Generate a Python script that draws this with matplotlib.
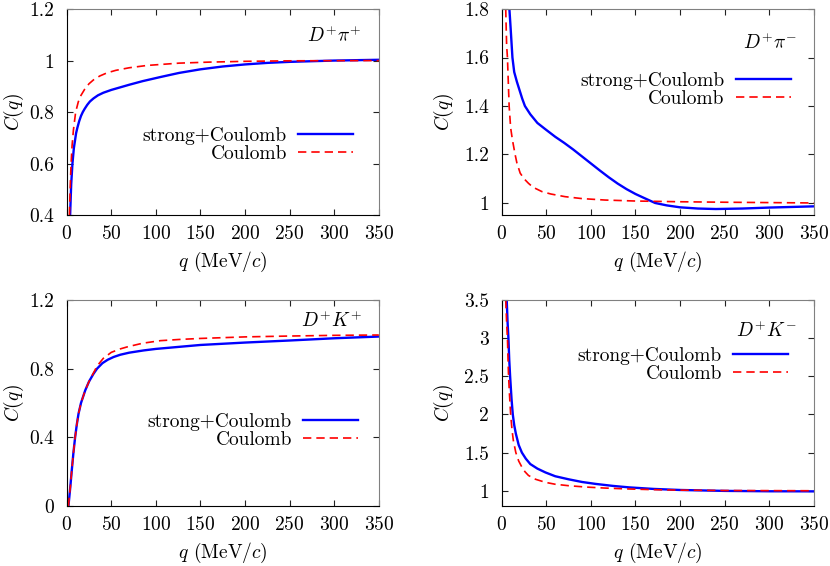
import matplotlib
matplotlib.use("Agg")
import matplotlib.pyplot as plt
from matplotlib.ticker import FormatStrFormatter, MultipleLocator

plt.rcParams['font.family'] = 'serif'
plt.rcParams['font.serif'] = ['cmr10', 'DejaVu Serif']
plt.rcParams['mathtext.fontset'] = 'cm'
plt.rcParams['axes.formatter.use_mathtext'] = True
plt.rcParams['font.size'] = 14

# D+ pi+
pp_q_sc = [3.8, 5, 6.4, 8, 10.5, 12, 14, 16, 18, 20, 23, 26, 30, 35, 41, 50, 60, 70, 85, 105, 126, 150,
           175, 200, 225, 250, 300, 350]
pp_c_sc = [0.4, 0.52, 0.6, 0.66, 0.718, 0.74, 0.765, 0.785, 0.80, 0.812, 0.828, 0.841, 0.853, 0.865, 0.875,
           0.886, 0.896, 0.906, 0.92, 0.936, 0.952, 0.966, 0.977, 0.985, 0.991, 0.995, 1.0, 1.003]
pp_q_c = [3, 4, 4.9, 6, 7.5, 10, 13, 16, 20, 25, 30, 37, 45, 55, 70, 90, 126, 160, 200, 250, 350]
pp_c_c = [0.4, 0.52, 0.6, 0.67, 0.73, 0.8, 0.84, 0.865, 0.888, 0.91, 0.925, 0.94, 0.952, 0.962, 0.972,
          0.981, 0.99, 0.994, 0.997, 0.999, 1.0]

# D+ pi-
pm_q_sc = [8.6, 10, 12, 14, 17, 20, 23, 26, 32, 40, 49, 60, 70, 80, 90, 100, 110, 120, 130, 140, 150, 160,
           172, 185, 200, 220, 240, 270, 300, 350]
pm_c_sc = [1.8, 1.72, 1.6, 1.54, 1.5, 1.465, 1.43, 1.40, 1.366, 1.33, 1.304, 1.273, 1.248, 1.221, 1.192,
           1.163, 1.134, 1.106, 1.08, 1.057, 1.037, 1.02, 1.0, 0.99, 0.982, 0.977, 0.975, 0.977, 0.981, 0.986]
pm_q_c = [4.5, 5, 5.5, 6.4, 8.3, 10, 12, 15, 17, 20.7, 25, 30, 35, 45, 55, 71, 90, 116, 150, 200, 250, 350]
pm_c_c = [1.8, 1.72, 1.65, 1.6, 1.4, 1.31, 1.26, 1.2, 1.165, 1.123, 1.1, 1.081, 1.065, 1.047, 1.037, 1.026,
          1.018, 1.012, 1.008, 1.005, 1.003, 1.0]

# D+ K+
kp_q_sc = [1.9, 4, 5.6, 7.5, 9.4, 11.3, 13.2, 16, 20.7, 25, 30, 34, 40, 46, 52.6, 60, 70, 86, 100, 126, 150,
           200, 250, 300, 350]
kp_c_sc = [0.0, 0.11, 0.205, 0.31, 0.4, 0.475, 0.537, 0.6, 0.673, 0.725, 0.77, 0.8, 0.832, 0.852, 0.868,
           0.881, 0.893, 0.906, 0.915, 0.927, 0.938, 0.952, 0.964, 0.977, 0.987]
kp_q_c = [1.9, 4, 5.6, 7.5, 9.4, 11.3, 13.2, 16, 20.7, 25, 30, 34, 41, 50, 60, 68, 85, 105, 126, 150, 200,
          250, 300, 350]
kp_c_c = [0.0, 0.11, 0.205, 0.31, 0.4, 0.475, 0.537, 0.6, 0.673, 0.725, 0.775, 0.815, 0.86, 0.895, 0.915,
          0.927, 0.948, 0.963, 0.97, 0.976, 0.985, 0.99, 0.994, 0.996]

# D+ K-
km_q_sc = [5.6, 6.5, 7.5, 8.4, 9.4, 11, 12.4, 14, 15.8, 19, 22.6, 27, 32, 40, 49, 60, 75, 90, 105, 125, 143,
           170, 200, 250, 300, 350]
km_c_sc = [3.5, 3.22, 3.0, 2.72, 2.5, 2.2, 2.0, 1.86, 1.75, 1.6, 1.5, 1.42, 1.35, 1.29, 1.24, 1.19, 1.15,
           1.115, 1.09, 1.063, 1.044, 1.024, 1.01, 0.998, 0.993, 0.992]
km_q_c = [4.5, 5.5, 6.4, 7, 7.5, 8.5, 10, 11.5, 13, 15.8, 19, 22.6, 26, 30, 38, 49, 60, 75, 95, 116, 140,
          170, 200, 250, 350]
km_c_c = [3.5, 3.2, 3.0, 2.75, 2.55, 2.3, 2.0, 1.8, 1.66, 1.5, 1.39, 1.31, 1.25, 1.2, 1.15, 1.11, 1.085,
          1.066, 1.048, 1.035, 1.024, 1.014, 1.008, 1.003, 1.0]

panels = [
    (pp_q_sc, pp_c_sc, pp_q_c, pp_c_c, (0.4, 1.2), 0.2, r'$D^{+}\pi^{+}$', (0.946, 0.869), (0.917, 0.34)),
    (pm_q_sc, pm_c_sc, pm_q_c, pm_c_c, (0.95, 1.8), 0.2, r'$D^{+}\pi^{-}$', (0.946, 0.835), (0.926, 0.607)),
    (kp_q_sc, kp_c_sc, kp_q_c, kp_c_c, (0.0, 1.2), 0.4, r'$D^{+}K^{+}$', (0.946, 0.898), (0.933, 0.366)),
    (km_q_sc, km_c_sc, km_q_c, km_c_c, (0.8, 3.5), 0.5, r'$D^{+}K^{-}$', (0.946, 0.85), (0.917, 0.684)),
]

fig = plt.figure(figsize=(8.3, 5.66), dpi=100)
rects = [(0.0804, 0.620, 0.376, 0.364), (0.6045, 0.620, 0.376, 0.364),
         (0.0804, 0.106, 0.376, 0.364), (0.6045, 0.106, 0.376, 0.364)]
ylabel_x = [-0.13, -0.148, -0.13, -0.148]

for rect, lx, (qs, cs, qc, cc, ylim, ystep, name, npos, lpos) in zip(rects, ylabel_x, panels):
    ax = fig.add_axes(rect)
    ax.plot(qs, cs, color='#0000ff', lw=1.7, label='strong+Coulomb')
    ax.plot(qc, cc, color='#ff0000', lw=1.2, dashes=(5, 3), label='Coulomb')
    ax.set_xlim(0, 350)
    ax.set_ylim(*ylim)
    ax.xaxis.set_major_locator(MultipleLocator(50))
    ax.yaxis.set_major_locator(MultipleLocator(ystep))
    ax.yaxis.set_major_formatter(FormatStrFormatter('%g'))
    ax.tick_params(direction='in', top=True, right=True, length=4, width=0.8,
                   colors='#222222', labelcolor='black')
    ax.tick_params(axis='x', pad=7)
    ax.tick_params(axis='y', pad=9)
    for s in ['top', 'right']:
        ax.spines[s].set_color('#808080')
    for s in ['left', 'bottom']:
        ax.spines[s].set_color('black')
    ax.set_xlabel(r'$q$ (MeV$/c$)', labelpad=5)
    ax.set_ylabel(r'$C(q)$')
    ax.yaxis.set_label_coords(lx, 0.5)
    ax.text(npos[0], npos[1], name, transform=ax.transAxes, ha='right', va='center')
    ax.legend(loc='center right', bbox_to_anchor=lpos, markerfirst=False, frameon=False,
              handlelength=2.8, handletextpad=0.6, labelspacing=0.0, borderpad=0, borderaxespad=0)

fig.savefig('out.png', dpi=100)
